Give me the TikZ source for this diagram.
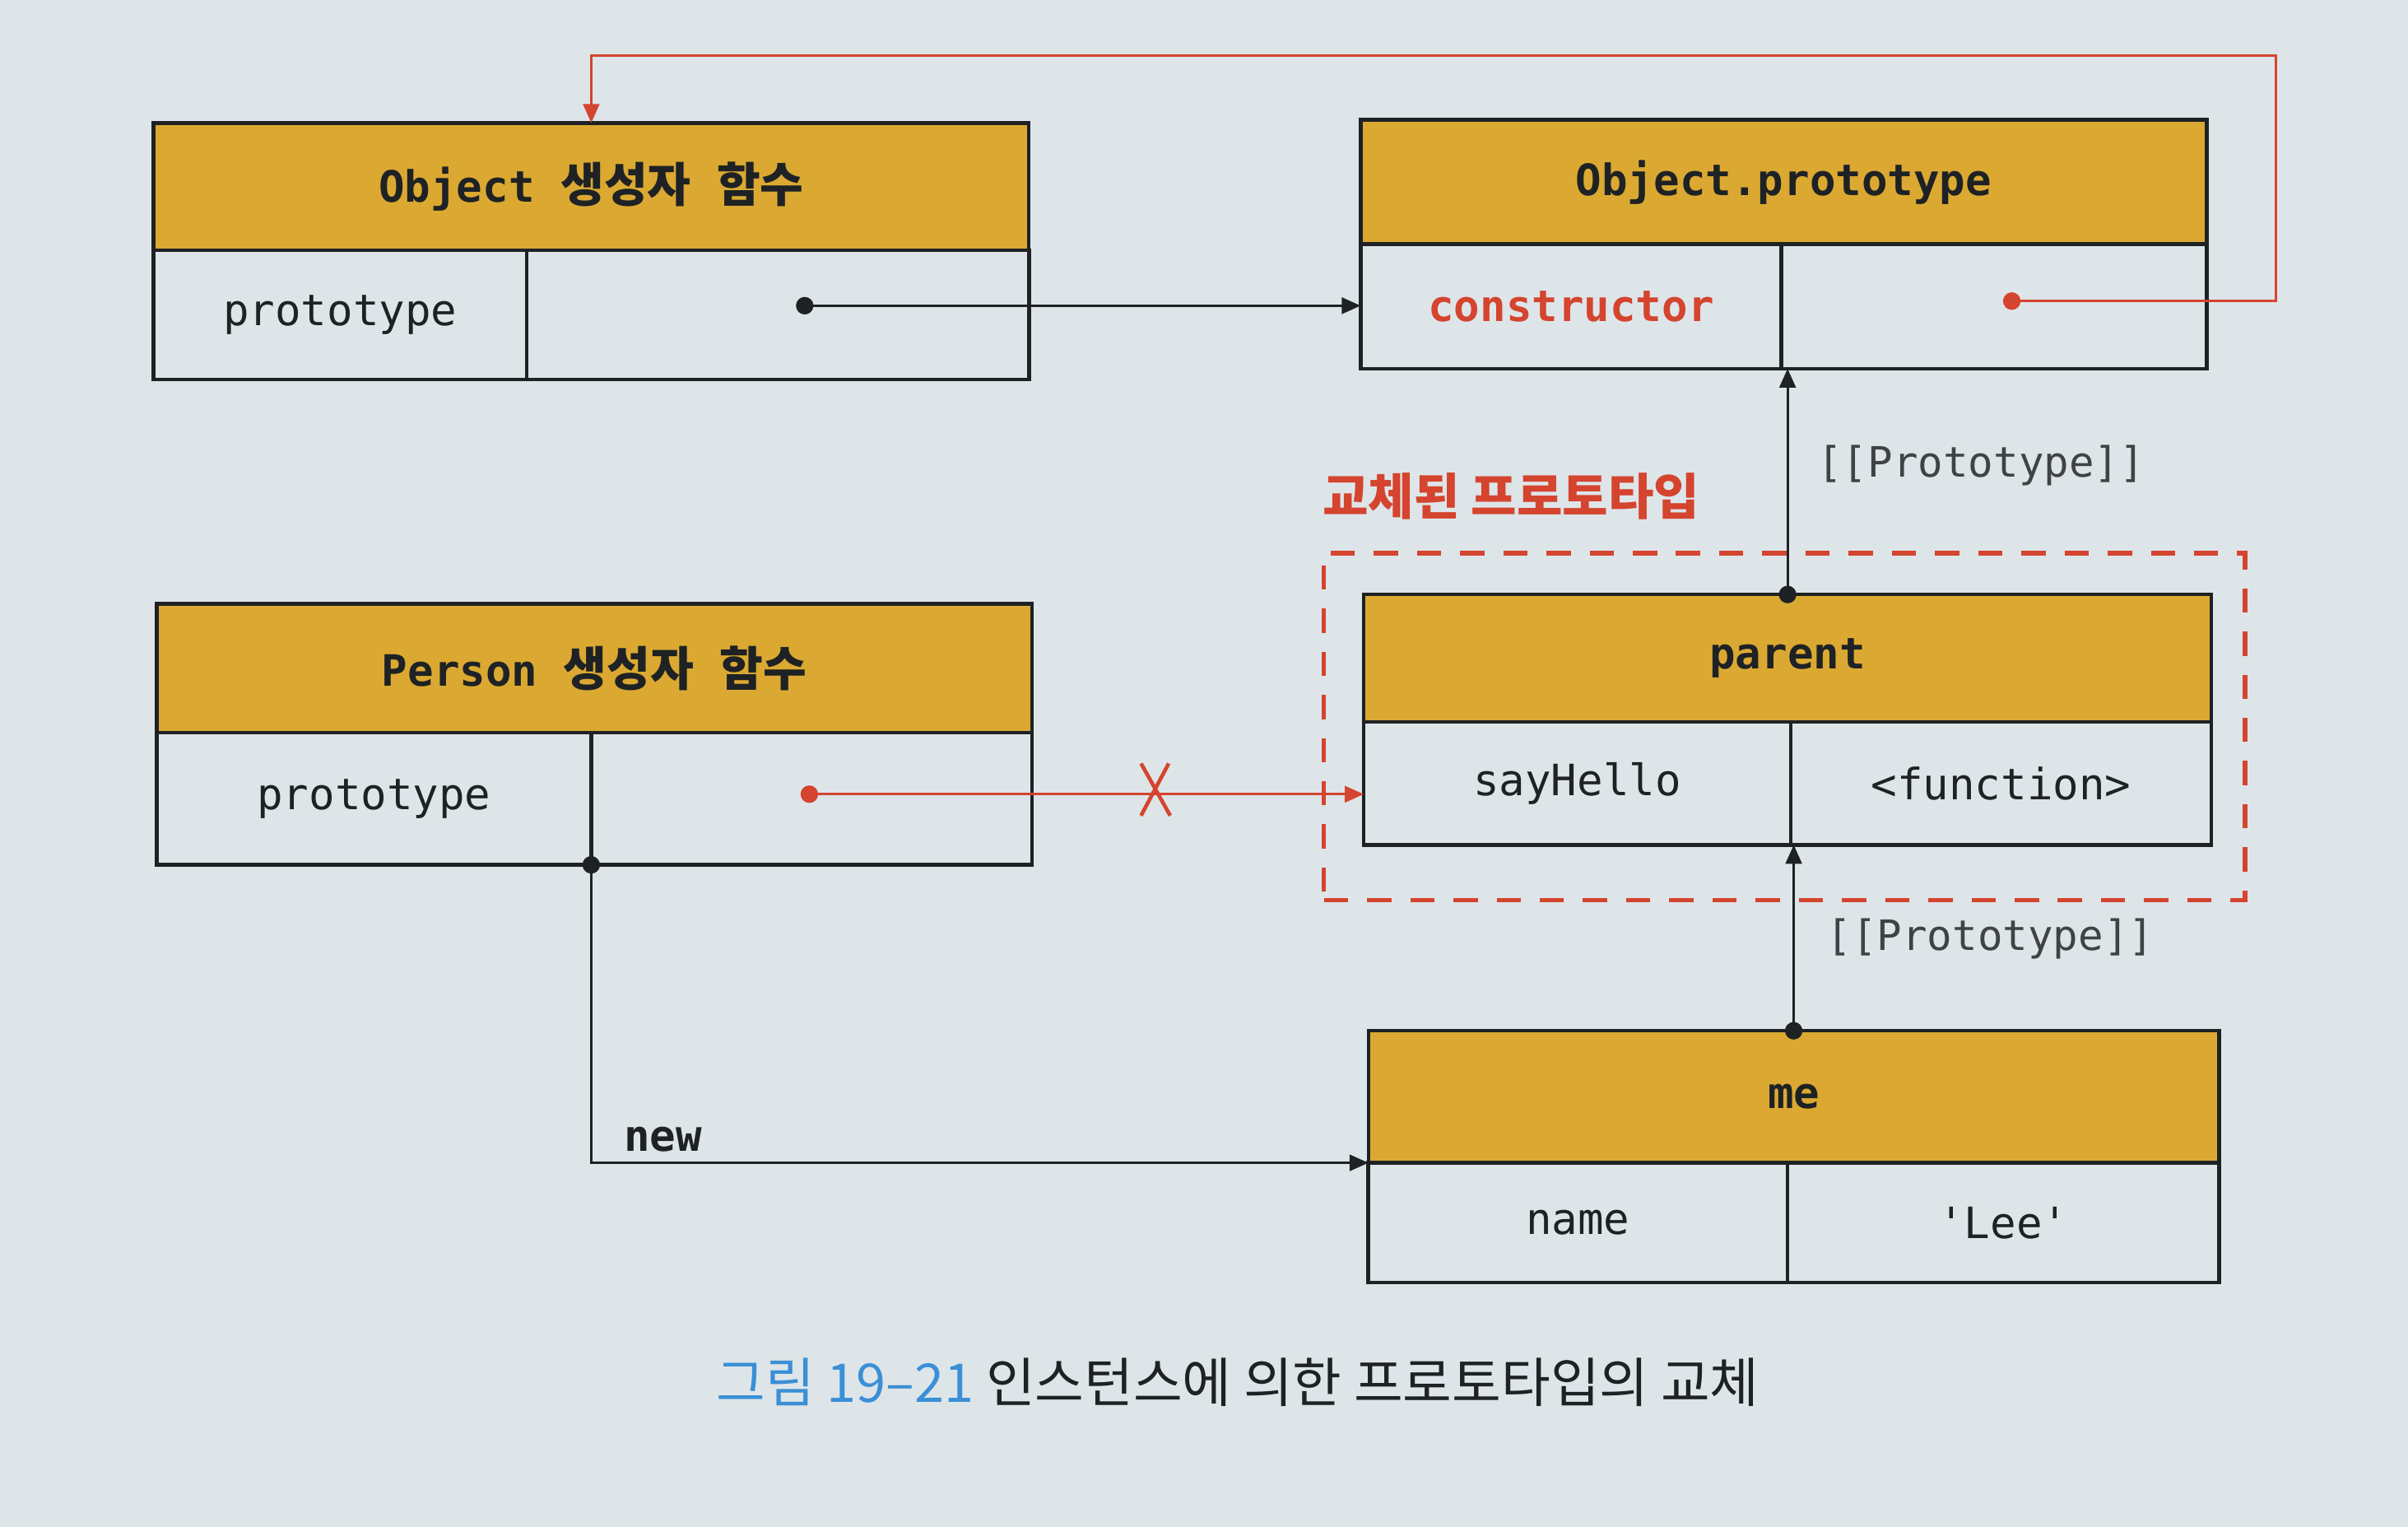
\documentclass[tikz,border=0pt]{standalone}
\usepackage{fontspec}
\setmonofont{DejaVu Sans Mono}
\newfontfamily\kr{Noto Sans CJK KR}
\usetikzlibrary{arrows.meta}
\definecolor{bg}{HTML}{DEE5E9}
\definecolor{gold}{HTML}{DBA932}
\definecolor{jsred}{HTML}{D4442E}
\definecolor{ink}{HTML}{1E2225}
\definecolor{capblue}{HTML}{3A8FD6}
\newcommand{\krh}[1]{{\kr\fontsize{17.5}{18}\selectfont #1}}
\tikzset{
  cell/.style={draw=ink, line width=1.4pt, inner sep=0pt, outer sep=0pt,
    font=\ttfamily\fontsize{16}{18}\selectfont, text=ink},
  hdr/.style={cell, fill=gold, font=\ttfamily\bfseries\fontsize{16}{18}\selectfont},
  ptr/.style={draw=ink, line width=0.9pt, -{Triangle[length=7pt,width=6pt]}},
  redptr/.style={ptr, draw=jsred},
  dot/.style={circle, fill=ink, inner sep=0pt, minimum size=6.5pt},
  reddot/.style={dot, fill=jsred},
  lbl/.style={font=\ttfamily\fontsize{15.5}{18}\selectfont, text=ink!85},
}
\begin{document}
\begin{tikzpicture}[x=0.02cm,y=-0.02cm]
\fill[bg] (0,0) rectangle (1568,994);
\useasboundingbox (0,0) rectangle (1568,994);

% replaced prototype frame
\node[draw=jsred, line width=1.7pt, dash pattern=on 9pt off 7pt, inner sep=0pt,
  minimum width=12cm, minimum height=4.52cm] (repl) at (1162,473) {};
\node[font=\kr\bfseries\fontsize{18.4}{20}\selectfont, text=jsred] (repltxt) at (984,323) {교체된 프로토타입};

% Object constructor
\node[hdr, minimum width=11.4cm, minimum height=1.66cm] (och) at (385,121.5) {Object \krh{생성자} \krh{함수}};
\node[cell, minimum width=4.86cm, minimum height=1.68cm] (ock) at (221.5,205) {prototype};
\node[cell, minimum width=6.54cm, minimum height=1.68cm] (ocv) at (506.5,205) {};

% Object.prototype
\node[hdr, minimum width=11.02cm, minimum height=1.62cm] (oph) at (1161.5,118.5) {Object.prototype};
\node[cell, minimum width=5.48cm, minimum height=1.62cm, text=jsred, font=\ttfamily\bfseries\fontsize{16}{18}\selectfont] (opk) at (1023,199.5) {constructor};
\node[cell, minimum width=5.54cm, minimum height=1.62cm] (opv) at (1298.5,199.5) {};

% Person constructor
\node[hdr, minimum width=11.4cm, minimum height=1.68cm] (pch) at (387,435) {Person \krh{생성자} \krh{함수}};
\node[cell, minimum width=5.66cm, minimum height=1.72cm] (pck) at (243.5,520) {prototype};
\node[cell, minimum width=5.74cm, minimum height=1.72cm] (pcv) at (528.5,520) {};

% parent
\node[hdr, minimum width=11.04cm, minimum height=1.66cm] (pah) at (1164,428.5) {parent};
\node[cell, minimum width=5.56cm, minimum height=1.6cm] (pak) at (1027,510) {sayHello};
\node[cell, minimum width=5.48cm, minimum height=1.6cm] (pav) at (1303,510) {<function>};

% me
\node[hdr, minimum width=11.08cm, minimum height=1.72cm] (meh) at (1168,714) {me};
\node[cell, minimum width=5.46cm, minimum height=1.56cm] (mek) at (1027.5,796) {name};
\node[cell, minimum width=5.62cm, minimum height=1.56cm] (mev) at (1304.5,796) {'Lee'};

% Object ctor prototype -> Object.prototype
\coordinate (ocdot) at (524,199);
\draw[ptr] (ocdot) -- (ocdot -| opk.west);
\node[dot] at (ocdot) {};

% constructor -> Object ctor
\coordinate (opdot) at (1310,196);
\coordinate (rtop) at (1482,36);
\draw[redptr] (opdot) -- (opdot -| rtop) -- (rtop) -- (rtop -| och.north) -- (och.north);
\node[reddot] at (opdot) {};

% parent -> Object.prototype
\draw[ptr] (pah.north) -- (pah.north |- opk.south);
\node[dot] at (pah.north) {};
\node[lbl] (lp1) at (1290,303) {[[Prototype]]};

% Person prototype -> parent (broken)
\coordinate (pcdot) at (527,517);
\draw[redptr] (pcdot) -- (pcdot -| pak.west);
\node[reddot] at (pcdot) {};
\coordinate (xm) at (752,514);
\draw[jsred, line width=1.4pt] (xm) ++(-9,-17) -- ++(19,34) (xm) ++(9,-17) -- ++(-18,34);

% new
\draw[ptr] (pck.south east) |- (meh.south west);
\node[dot] at (pck.south east) {};
\node[anchor=west, font=\ttfamily\bfseries\fontsize{16}{18}\selectfont, text=ink] (newl) at (400,742) {new};

% me -> parent
\draw[ptr] (meh.north) -- (meh.north |- pav.south);
\node[dot] at (meh.north) {};
\node[lbl] (lp2) at (1296,611) {[[Prototype]]};

% caption
\node[font=\kr\fontsize{19.8}{22}\selectfont, text=ink] (cap) at (806,900)
  {\textcolor{capblue}{그림 19–21} 인스턴스에 의한 프로토타입의 교체};
\end{tikzpicture}
\end{document}
